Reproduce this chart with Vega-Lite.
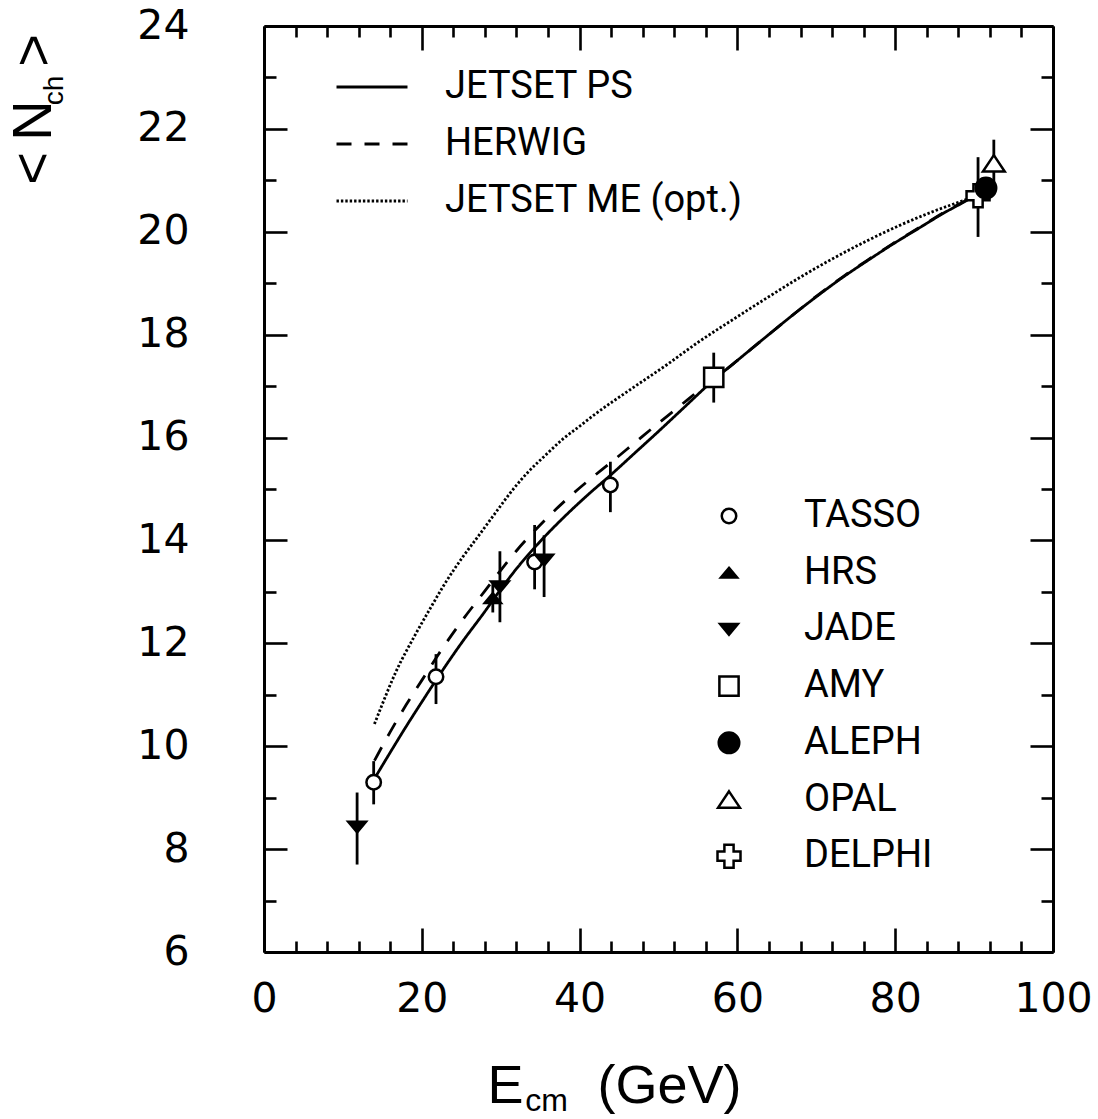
{
  "$schema": "https://vega.github.io/schema/vega-lite/v6.json",
  "width": 789,
  "height": 926,
  "autosize": {"type": "none"},
  "padding": {"left": 264, "top": 26, "right": 45, "bottom": 167},
  "background": "white",
  "config": {
    "view": {"stroke": null},
    "axis": {
      "grid": false,
      "domainColor": "black",
      "domainWidth": 3,
      "tickColor": "black",
      "tickWidth": 2.6,
      "labelFont": "DejaVu Sans",
      "labelFontSize": 41,
      "labelColor": "black",
      "labelOverlap": false,
      "labelFlush": false,
      "labelBound": false,
      "titleColor": "black",
      "titleFont": "Liberation Sans",
      "titleFontWeight": "normal"
    }
  },
  "datasets": {
    "curves": [
      {"model": "JETSET PS", "E": 14, "N": 9.37},
      {"model": "JETSET PS", "E": 16, "N": 9.88},
      {"model": "JETSET PS", "E": 18, "N": 10.38},
      {"model": "JETSET PS", "E": 20, "N": 10.86},
      {"model": "JETSET PS", "E": 22, "N": 11.33},
      {"model": "JETSET PS", "E": 25, "N": 12.0},
      {"model": "JETSET PS", "E": 28, "N": 12.62},
      {"model": "JETSET PS", "E": 30, "N": 13.05},
      {"model": "JETSET PS", "E": 32, "N": 13.45},
      {"model": "JETSET PS", "E": 35, "N": 13.98},
      {"model": "JETSET PS", "E": 38, "N": 14.45},
      {"model": "JETSET PS", "E": 41, "N": 14.88},
      {"model": "JETSET PS", "E": 44, "N": 15.28},
      {"model": "JETSET PS", "E": 47, "N": 15.7},
      {"model": "JETSET PS", "E": 50, "N": 16.12},
      {"model": "JETSET PS", "E": 53, "N": 16.55},
      {"model": "JETSET PS", "E": 57, "N": 17.12},
      {"model": "JETSET PS", "E": 60, "N": 17.5},
      {"model": "JETSET PS", "E": 63.8, "N": 17.98},
      {"model": "JETSET PS", "E": 67, "N": 18.38},
      {"model": "JETSET PS", "E": 70.2, "N": 18.76},
      {"model": "JETSET PS", "E": 73.4, "N": 19.12},
      {"model": "JETSET PS", "E": 76.5, "N": 19.44},
      {"model": "JETSET PS", "E": 79.7, "N": 19.76},
      {"model": "JETSET PS", "E": 82.9, "N": 20.06},
      {"model": "JETSET PS", "E": 86, "N": 20.35},
      {"model": "JETSET PS", "E": 89.2, "N": 20.62},
      {"model": "JETSET PS", "E": 91, "N": 20.78},
      {"model": "HERWIG", "E": 14, "N": 9.72},
      {"model": "HERWIG", "E": 16, "N": 10.28},
      {"model": "HERWIG", "E": 18, "N": 10.8},
      {"model": "HERWIG", "E": 20, "N": 11.28},
      {"model": "HERWIG", "E": 22, "N": 11.76},
      {"model": "HERWIG", "E": 25, "N": 12.42},
      {"model": "HERWIG", "E": 28, "N": 13.02},
      {"model": "HERWIG", "E": 30, "N": 13.42},
      {"model": "HERWIG", "E": 32, "N": 13.8},
      {"model": "HERWIG", "E": 35, "N": 14.3},
      {"model": "HERWIG", "E": 38, "N": 14.75},
      {"model": "HERWIG", "E": 41, "N": 15.15},
      {"model": "HERWIG", "E": 44, "N": 15.52},
      {"model": "HERWIG", "E": 47, "N": 15.9},
      {"model": "HERWIG", "E": 50, "N": 16.28},
      {"model": "HERWIG", "E": 53, "N": 16.65},
      {"model": "HERWIG", "E": 55, "N": 16.9},
      {"model": "HERWIG", "E": 57, "N": 17.13},
      {"model": "HERWIG", "E": 60, "N": 17.5},
      {"model": "HERWIG", "E": 63.8, "N": 17.98},
      {"model": "HERWIG", "E": 67, "N": 18.38},
      {"model": "HERWIG", "E": 70.2, "N": 18.77},
      {"model": "HERWIG", "E": 73.4, "N": 19.13},
      {"model": "HERWIG", "E": 76.5, "N": 19.45},
      {"model": "HERWIG", "E": 79.7, "N": 19.77},
      {"model": "HERWIG", "E": 82.9, "N": 20.07},
      {"model": "HERWIG", "E": 86, "N": 20.36},
      {"model": "HERWIG", "E": 89.2, "N": 20.63},
      {"model": "HERWIG", "E": 91, "N": 20.78},
      {"model": "JETSET ME (opt.)", "E": 14, "N": 10.43},
      {"model": "JETSET ME (opt.)", "E": 15, "N": 10.82},
      {"model": "JETSET ME (opt.)", "E": 16.7, "N": 11.44},
      {"model": "JETSET ME (opt.)", "E": 19, "N": 12.12},
      {"model": "JETSET ME (opt.)", "E": 21, "N": 12.66},
      {"model": "JETSET ME (opt.)", "E": 23, "N": 13.18},
      {"model": "JETSET ME (opt.)", "E": 25.2, "N": 13.68},
      {"model": "JETSET ME (opt.)", "E": 27, "N": 14.05},
      {"model": "JETSET ME (opt.)", "E": 29.4, "N": 14.55},
      {"model": "JETSET ME (opt.)", "E": 31.5, "N": 14.98},
      {"model": "JETSET ME (opt.)", "E": 33.6, "N": 15.35},
      {"model": "JETSET ME (opt.)", "E": 35.7, "N": 15.66},
      {"model": "JETSET ME (opt.)", "E": 37.8, "N": 15.96},
      {"model": "JETSET ME (opt.)", "E": 40, "N": 16.22},
      {"model": "JETSET ME (opt.)", "E": 42.1, "N": 16.47},
      {"model": "JETSET ME (opt.)", "E": 46.3, "N": 16.92},
      {"model": "JETSET ME (opt.)", "E": 51.1, "N": 17.42},
      {"model": "JETSET ME (opt.)", "E": 55, "N": 17.85},
      {"model": "JETSET ME (opt.)", "E": 59.5, "N": 18.3},
      {"model": "JETSET ME (opt.)", "E": 64, "N": 18.74},
      {"model": "JETSET ME (opt.)", "E": 68, "N": 19.12},
      {"model": "JETSET ME (opt.)", "E": 72, "N": 19.47},
      {"model": "JETSET ME (opt.)", "E": 76.5, "N": 19.83},
      {"model": "JETSET ME (opt.)", "E": 80.5, "N": 20.12},
      {"model": "JETSET ME (opt.)", "E": 84.9, "N": 20.4},
      {"model": "JETSET ME (opt.)", "E": 89.2, "N": 20.64},
      {"model": "JETSET ME (opt.)", "E": 91, "N": 20.75}
    ],
    "points": [
      {"exp": "TASSO", "E": 13.9, "N": 9.3, "lo": 8.87, "hi": 9.71},
      {"exp": "TASSO", "E": 21.8, "N": 11.35, "lo": 10.82, "hi": 11.79},
      {"exp": "TASSO", "E": 34.3, "N": 13.58, "lo": 13.05, "hi": 14.3},
      {"exp": "TASSO", "E": 43.9, "N": 15.08, "lo": 14.55, "hi": 15.53},
      {"exp": "AMY", "E": 57.0, "N": 17.17, "lo": 16.68, "hi": 17.65},
      {"exp": "DELPHI", "E": 90.5, "N": 20.7, "lo": 19.9, "hi": 21.45},
      {"exp": "OPAL", "E": 92.5, "N": 21.33, "lo": 20.97, "hi": 21.79},
      {"exp": "HRS", "E": 29.0, "N": 12.88, "lo": 12.6, "hi": 13.15},
      {"exp": "JADE", "E": 11.8, "N": 8.43, "lo": 7.7, "hi": 9.1},
      {"exp": "JADE", "E": 29.9, "N": 13.1, "lo": 12.41, "hi": 13.79},
      {"exp": "JADE", "E": 35.5, "N": 13.62, "lo": 12.9, "hi": 14.1},
      {"exp": "ALEPH", "E": 91.5, "N": 20.85, "lo": 20.62, "hi": 21.05}
    ]
  },
  "layer": [
    {
      "data": {"name": "curves"},
      "mark": {"type": "line", "color": "black", "strokeWidth": 2.8, "interpolate": "monotone"},
      "encoding": {
        "x": {
          "field": "E", "type": "quantitative",
          "scale": {"domain": [0, 100], "nice": false, "zero": false},
          "axis": {
            "orient": "bottom",
            "values": [0,4,8,12,16,20,24,28,32,36,40,44,48,52,56,60,64,68,72,76,80,84,88,92,96,100],
            "labelExpr": "datum.value % 20 === 0 ? datum.label : ''",
            "tickSize": {"condition": {"test": "datum.value % 20 === 0", "value": -24}, "value": -11},
            "labelPadding": 51,
            "title": "E",
            "titleFontSize": 54,
            "titleX": 241,
            "titleY": 150,
            "titleAlign": "center",
            "titleBaseline": "alphabetic",
            "titleAngle": 0
          }
        },
        "y": {
          "field": "N", "type": "quantitative",
          "scale": {"domain": [6, 24], "nice": false, "zero": false},
          "axis": {
            "orient": "left",
            "values": [6,7,8,9,10,11,12,13,14,15,16,17,18,19,20,21,22,23,24],
            "labelExpr": "datum.value % 2 === 0 ? datum.label : ''",
            "tickSize": {"condition": {"test": "datum.value % 2 === 0", "value": -23}, "value": -12},
            "labelPadding": 98,
            "title": "<\u2009N",
            "titleFontSize": 56,
            "titleX": -214,
            "titleY": 116,
            "titleAlign": "center",
            "titleBaseline": "alphabetic",
            "titleAngle": -90
          }
        },
        "strokeDash": {
          "field": "model", "type": "nominal",
          "scale": {"domain": ["JETSET PS", "HERWIG", "JETSET ME (opt.)"], "range": [[1, 0], [15, 13], [2.4, 2.0]]},
          "legend": {
            "orient": "none", "legendX": 89, "legendY": 42, "title": null, "padding": 0,
            "symbolType": "M-3,0L3,0", "symbolSize": 560, "symbolStrokeWidth": 3, "symbolStrokeColor": "black",
            "labelFont": "Roboto", "labelFontSize": 38, "labelColor": "black", "labelOffset": 54,
            "rowPadding": 19, "labelLimit": 600
          }
        }
      }
    },
    {
      "data": {"name": "points"},
      "mark": {"type": "rule", "color": "black", "strokeWidth": 2.8},
      "encoding": {
        "x": {
          "field": "E", "type": "quantitative",
          "scale": {"domain": [0, 100], "nice": false, "zero": false},
          "axis": {
            "orient": "top",
            "values": [0,4,8,12,16,20,24,28,32,36,40,44,48,52,56,60,64,68,72,76,80,84,88,92,96,100],
            "tickSize": {"condition": {"test": "datum.value % 20 === 0", "value": -24}, "value": -11},
            "labels": false,
            "title": null
          }
        },
        "y": {
          "field": "lo", "type": "quantitative",
          "scale": {"domain": [6, 24], "nice": false, "zero": false},
          "axis": {
            "orient": "right",
            "values": [6,7,8,9,10,11,12,13,14,15,16,17,18,19,20,21,22,23,24],
            "tickSize": {"condition": {"test": "datum.value % 2 === 0", "value": -23}, "value": -12},
            "labels": false,
            "title": null
          }
        },
        "y2": {"field": "hi"}
      }
    },
    {
      "data": {"name": "points"},
      "transform": [{"filter": "indexof(['TASSO','AMY','OPAL','DELPHI'], datum.exp) >= 0"}],
      "mark": {"type": "point", "filled": true, "stroke": "black", "strokeWidth": 2.5, "opacity": 1},
      "encoding": {
        "x": {
          "field": "E", "type": "quantitative",
          "scale": {"domain": [0, 100], "nice": false, "zero": false},
          "axis": {
            "orient": "bottom", "domain": false, "ticks": false, "labels": false,
            "title": "cm", "titleFontSize": 32, "titleX": 282, "titleY": 158,
            "titleAlign": "center", "titleBaseline": "alphabetic", "titleAngle": 0
          }
        },
        "y": {
          "field": "N", "type": "quantitative",
          "scale": {"domain": [6, 24], "nice": false, "zero": false},
          "axis": {
            "orient": "left", "domain": false, "ticks": false, "labels": false,
            "title": "ch", "titleFontSize": 28, "titleX": -202, "titleY": 64,
            "titleAlign": "center", "titleBaseline": "alphabetic", "titleAngle": -90
          }
        },
        "shape": {
          "field": "exp", "type": "nominal",
          "scale": {
            "domain": ["TASSO", "HRS", "JADE", "AMY", "ALEPH", "OPAL", "DELPHI"],
            "range": ["circle", "M0,-0.6L1,0.6L-1,0.6Z", "M0,0.6L1,-0.6L-1,-0.6Z", "square", "circle", "M0,-0.75L1,0.75L-1,0.75Z", "cross"]
          },
          "legend": {
            "orient": "none", "legendX": 446, "legendY": 471, "title": null, "padding": 0,
            "symbolStrokeColor": "black", "symbolStrokeWidth": 2.5, "symbolOpacity": 1,
            "labelFont": "Roboto", "labelFontSize": 38, "labelColor": "black", "labelOffset": 56,
            "rowPadding": 18.7, "labelLimit": 600,
            "encode": {"symbols": {"update": {"stroke": {"value": "black"}, "strokeWidth": {"value": 2.5}}}}
          }
        },
        "fill": {
          "field": "exp", "type": "nominal",
          "scale": {
            "domain": ["TASSO", "HRS", "JADE", "AMY", "ALEPH", "OPAL", "DELPHI"],
            "range": ["white", "black", "black", "white", "black", "white", "white"]
          },
          "legend": {
            "orient": "none", "legendX": 446, "legendY": 471, "title": null, "padding": 0,
            "symbolStrokeColor": "black", "symbolStrokeWidth": 2.5, "symbolOpacity": 1,
            "labelFont": "Roboto", "labelFontSize": 38, "labelColor": "black", "labelOffset": 56,
            "rowPadding": 18.7, "labelLimit": 600,
            "encode": {"symbols": {"update": {"stroke": {"value": "black"}, "strokeWidth": {"value": 2.5}}}}
          }
        },
        "size": {
          "field": "exp", "type": "nominal",
          "scale": {
            "domain": ["TASSO", "HRS", "JADE", "AMY", "ALEPH", "OPAL", "DELPHI"],
            "range": [210, 529, 529, 300, 361, 484, 289]
          },
          "legend": {
            "orient": "none", "legendX": 446, "legendY": 471, "title": null, "padding": 0,
            "symbolStrokeColor": "black", "symbolStrokeWidth": 2.5, "symbolOpacity": 1,
            "labelFont": "Roboto", "labelFontSize": 38, "labelColor": "black", "labelOffset": 56,
            "rowPadding": 18.7, "labelLimit": 600,
            "encode": {"symbols": {"update": {"stroke": {"value": "black"}, "strokeWidth": {"value": 2.5}}}}
          }
        }
      }
    },
    {
      "data": {"name": "points"},
      "transform": [{"filter": "indexof(['HRS','JADE','ALEPH'], datum.exp) >= 0"}],
      "mark": {"type": "point", "filled": true, "stroke": "black", "strokeWidth": 2.5, "opacity": 1},
      "encoding": {
        "x": {
          "field": "E", "type": "quantitative",
          "scale": {"domain": [0, 100], "nice": false, "zero": false},
          "axis": {
            "orient": "bottom", "domain": false, "ticks": false, "labels": false,
            "title": "(GeV)", "titleFontSize": 54, "titleX": 405, "titleY": 150,
            "titleAlign": "center", "titleBaseline": "alphabetic", "titleAngle": 0
          }
        },
        "y": {
          "field": "N", "type": "quantitative",
          "scale": {"domain": [6, 24], "nice": false, "zero": false},
          "axis": {
            "orient": "left", "domain": false, "ticks": false, "labels": false,
            "title": ">", "titleFontSize": 56, "titleX": -213, "titleY": 24,
            "titleAlign": "center", "titleBaseline": "alphabetic", "titleAngle": -90
          }
        },
        "shape": {
          "field": "exp", "type": "nominal",
          "scale": {
            "domain": ["TASSO", "HRS", "JADE", "AMY", "ALEPH", "OPAL", "DELPHI"],
            "range": ["circle", "M0,-0.6L1,0.6L-1,0.6Z", "M0,0.6L1,-0.6L-1,-0.6Z", "square", "circle", "M0,-0.75L1,0.75L-1,0.75Z", "cross"]
          },
          "legend": {
            "orient": "none", "legendX": 446, "legendY": 471, "title": null, "padding": 0,
            "symbolStrokeColor": "black", "symbolStrokeWidth": 2.5, "symbolOpacity": 1,
            "labelFont": "Roboto", "labelFontSize": 38, "labelColor": "black", "labelOffset": 56,
            "rowPadding": 18.7, "labelLimit": 600,
            "encode": {"symbols": {"update": {"stroke": {"value": "black"}, "strokeWidth": {"value": 2.5}}}}
          }
        },
        "fill": {
          "field": "exp", "type": "nominal",
          "scale": {
            "domain": ["TASSO", "HRS", "JADE", "AMY", "ALEPH", "OPAL", "DELPHI"],
            "range": ["white", "black", "black", "white", "black", "white", "white"]
          },
          "legend": {
            "orient": "none", "legendX": 446, "legendY": 471, "title": null, "padding": 0,
            "symbolStrokeColor": "black", "symbolStrokeWidth": 2.5, "symbolOpacity": 1,
            "labelFont": "Roboto", "labelFontSize": 38, "labelColor": "black", "labelOffset": 56,
            "rowPadding": 18.7, "labelLimit": 600,
            "encode": {"symbols": {"update": {"stroke": {"value": "black"}, "strokeWidth": {"value": 2.5}}}}
          }
        },
        "size": {
          "field": "exp", "type": "nominal",
          "scale": {
            "domain": ["TASSO", "HRS", "JADE", "AMY", "ALEPH", "OPAL", "DELPHI"],
            "range": [210, 529, 529, 300, 361, 484, 289]
          },
          "legend": {
            "orient": "none", "legendX": 446, "legendY": 471, "title": null, "padding": 0,
            "symbolStrokeColor": "black", "symbolStrokeWidth": 2.5, "symbolOpacity": 1,
            "labelFont": "Roboto", "labelFontSize": 38, "labelColor": "black", "labelOffset": 56,
            "rowPadding": 18.7, "labelLimit": 600,
            "encode": {"symbols": {"update": {"stroke": {"value": "black"}, "strokeWidth": {"value": 2.5}}}}
          }
        }
      }
    }
  ],
  "resolve": {"axis": {"x": "independent", "y": "independent"}}
}
